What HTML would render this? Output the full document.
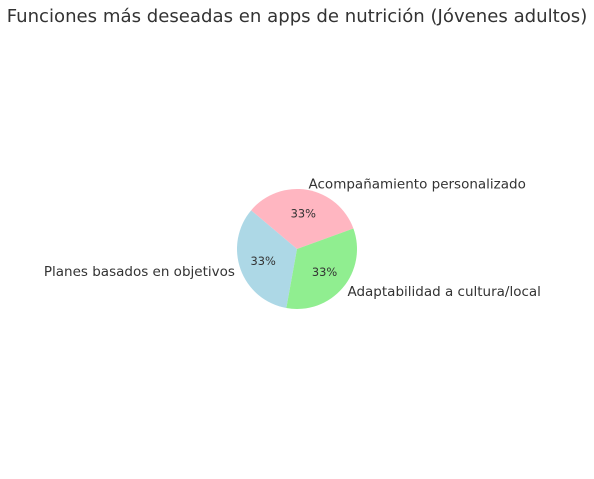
<!DOCTYPE html>
<html><head><meta charset="utf-8"><style>
body{margin:0;background:#fff;}
svg text{font-family:"DejaVu Sans","Liberation Sans",sans-serif;fill:#333;}
</style></head><body>
<svg id="chart" width="594" height="474" viewBox="0 0 594 474">
<rect width="594" height="474" fill="#fff"/>
<text x="297" y="22" text-anchor="middle" font-size="18.1">Funciones más deseadas en apps de nutrición (Jóvenes adultos)</text>
<g id="slices"></g>
</svg>
<script>
const categories=["Acompañamiento personalizado","Planes basados en objetivos","Adaptabilidad a cultura/local"];
const values=[33.3,33.3,33.4];
const pctLabels=["33%","33%","33%"];
const colors=["#ffb6c1","#add8e6","#90ee90"];
const cx=297,cy=249,r=60,startAngle=20;
const g=document.getElementById('slices');
const NS="http://www.w3.org/2000/svg";
const total=values.reduce((a,b)=>a+b,0);
let a0=startAngle;
function pt(deg,rr){const t=deg*Math.PI/180;return [cx+rr*Math.cos(t),cy-rr*Math.sin(t)];}
values.forEach((v,i)=>{
  const sweep=v/total*360,a1=a0+sweep;
  const p0=pt(a0,r),p1=pt(a1,r);
  const path=document.createElementNS(NS,'path');
  path.setAttribute('d',`M${cx},${cy} L${p0[0]},${p0[1]} A${r},${r} 0 ${sweep>180?1:0} 0 ${p1[0]},${p1[1]} Z`);
  path.setAttribute('fill',colors[i]);
  
  
  g.appendChild(path);
  const mid=(a0+a1)/2;
  const lp=pt(mid,r*1.1);
  const lt=document.createElementNS(NS,'text');
  const c=Math.cos(mid*Math.PI/180);
  lt.setAttribute('x',lp[0]);lt.setAttribute('y',lp[1]+4.5);
  lt.setAttribute('font-size','13.5');
  lt.setAttribute('text-anchor',c<0?'end':'start');
  lt.textContent=categories[i];
  
  
  g.appendChild(lt);
  const pp=pt(mid,r*0.6);
  const pt2=document.createElementNS(NS,'text');
  pt2.setAttribute('x',pp[0]);pt2.setAttribute('y',pp[1]+4);
  pt2.setAttribute('font-size','11.4');
  pt2.setAttribute('text-anchor','middle');
  pt2.textContent=pctLabels[i];
  
  
  g.appendChild(pt2);
  a0=a1;
});
</script>
</body></html>
